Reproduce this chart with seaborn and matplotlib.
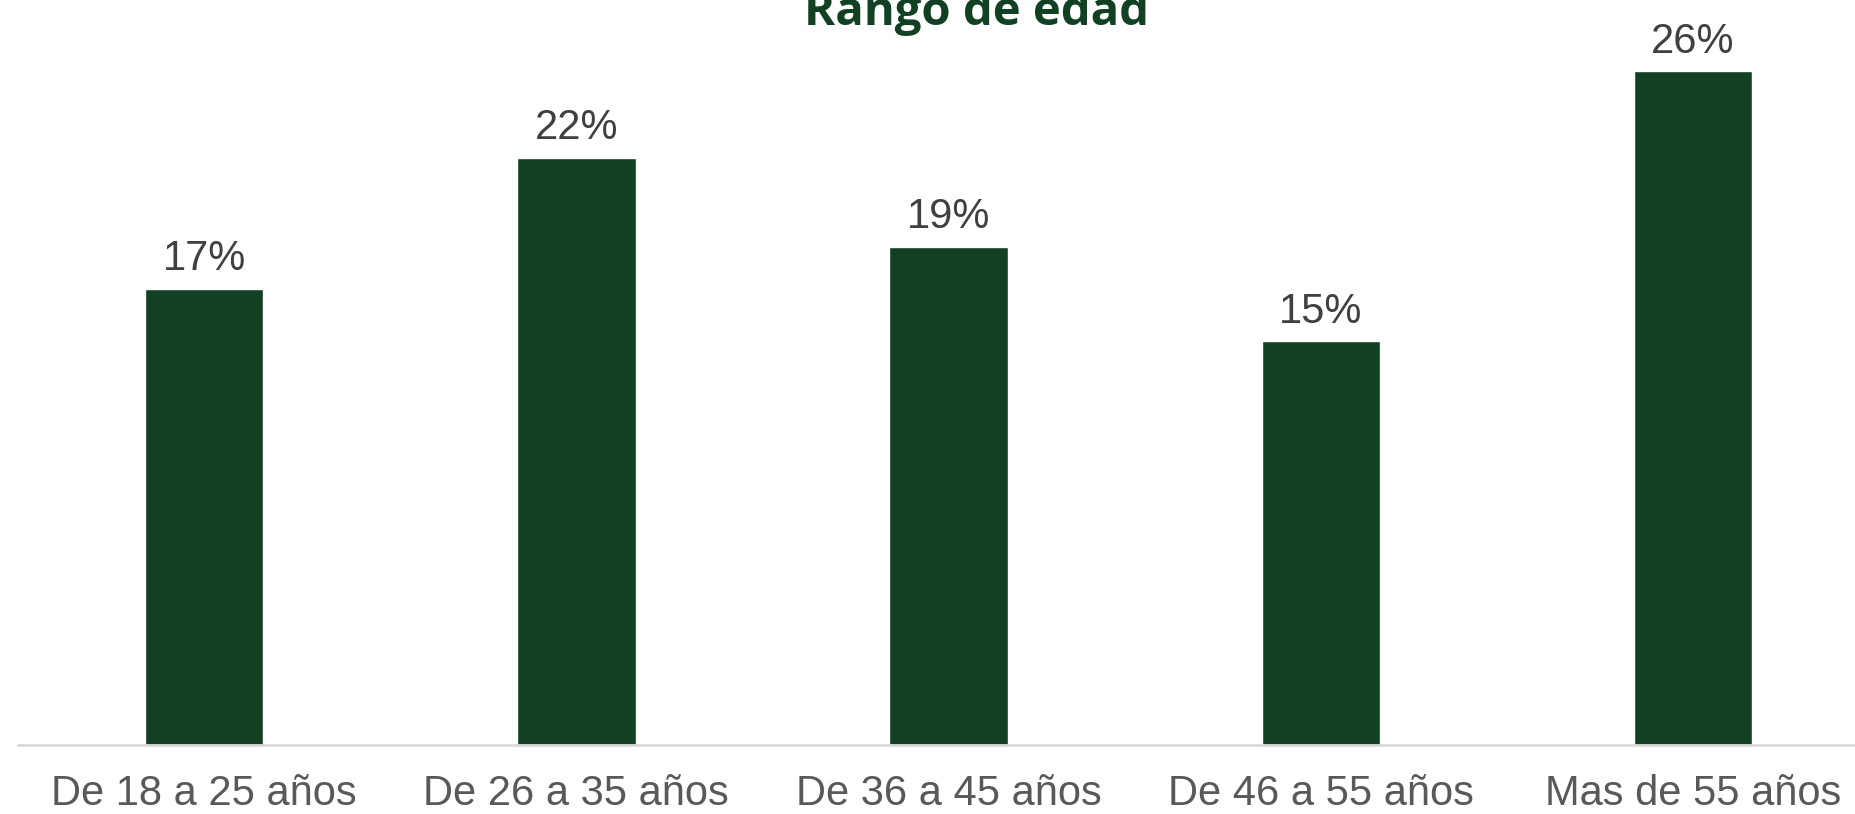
import pandas as pd
import matplotlib
matplotlib.use("Agg")
import matplotlib.pyplot as plt
import seaborn as sns

# Datos
categorias = ["De 18 a 25 años", "De 26 a 35 años", "De 36 a 45 años",
              "De 46 a 55 años", "Mas de 55 años"]
porcentajes = [17.4, 22.4, 19.0, 15.4, 25.7]
titulo = "Rango de edad"

verde = "#114022"

df = pd.DataFrame({"rango": categorias, "pct": porcentajes})

sns.set_theme(style="white")
plt.rcParams["font.family"] = ["Liberation Sans", "DejaVu Sans"]

fig = plt.figure(figsize=(18.56, 8.14), dpi=100)
ax = fig.add_axes([18 / 1856, 69 / 814, 1 - 18 / 1856, 745 / 814])

sns.barplot(data=df, x="rango", y="pct", color=verde, saturation=1,
            width=0.318, ax=ax)

ax.set_xlim(-0.5, 4.438)
ax.set_ylim(0, 28.42)

# Etiquetas de valor
for cont in ax.containers:
    ax.bar_label(cont, labels=[f"{v:.0f}%" for v in porcentajes],
                 padding=7, fontsize=30, color="#404040")

ax.set_xlabel("")
ax.set_ylabel("")
ax.set_yticks([])
ax.tick_params(axis="x", length=0, pad=21, labelsize=30, labelcolor="#595959")

for lado in ["top", "right", "left"]:
    ax.spines[lado].set_visible(False)
ax.spines["bottom"].set_color("#D9D9D9")
ax.spines["bottom"].set_linewidth(2)

fig.text(977 / 1856, (814 - 25) / 814, titulo, ha="center", va="baseline",
         fontsize=34, fontweight="bold", color=verde, family=["Open Sans", "DejaVu Sans"])

fig.savefig("out.png", dpi=100)
